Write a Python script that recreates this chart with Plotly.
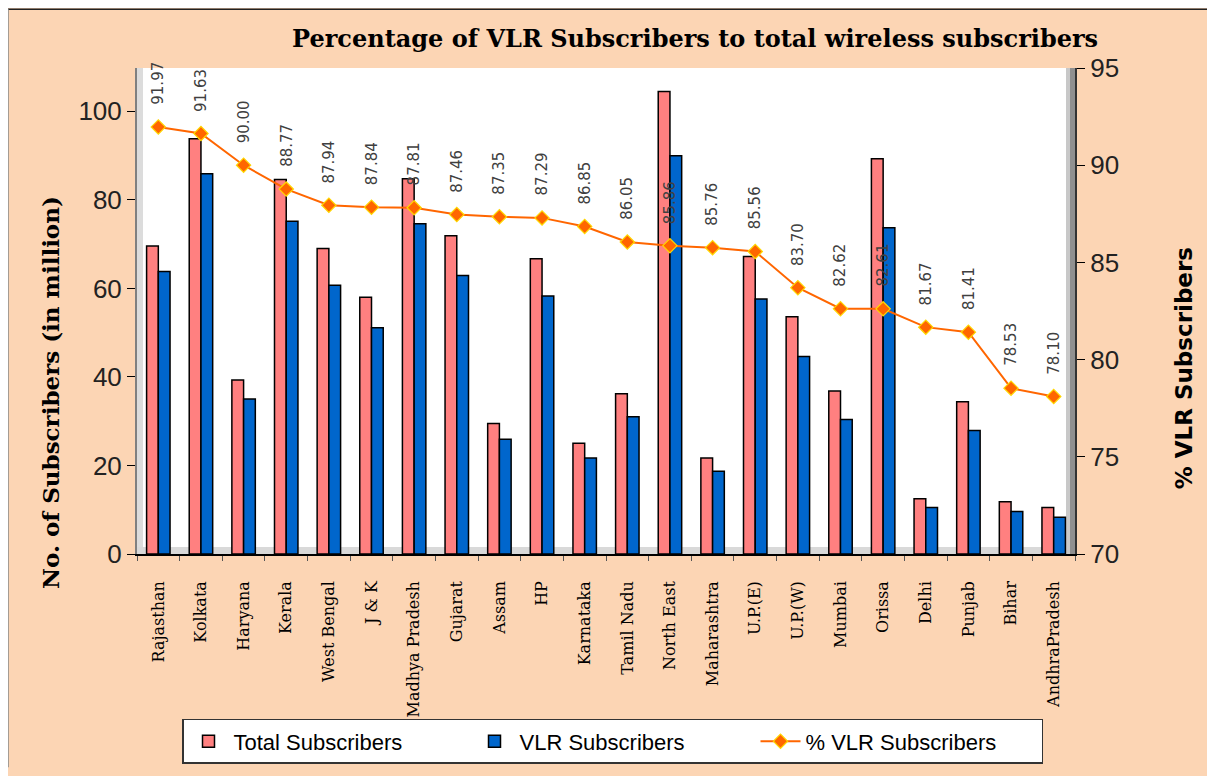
import plotly.graph_objects as go

categories = ["Rajasthan", "Kolkata", "Haryana", "Kerala", "West Bengal", "J & K",
              "Madhya Pradesh", "Gujarat", "Assam", "HP", "Karnataka", "Tamil Nadu",
              "North East", "Maharashtra", "U.P.(E)", "U.P.(W)", "Mumbai", "Orissa",
              "Delhi", "Punjab", "Bihar", "AndhraPradesh"]
total_subs = [69.6, 93.8, 39.3, 84.6, 69.0, 58.0, 84.8, 71.9, 29.5, 66.7, 25.0, 36.2,
              104.5, 21.7, 67.2, 53.6, 36.8, 89.3, 12.5, 34.4, 11.8, 10.5]
vlr_subs = [63.8, 85.9, 35.0, 75.2, 60.7, 51.1, 74.6, 62.9, 25.9, 58.3, 21.7, 31.0,
            90.0, 18.7, 57.6, 44.6, 30.4, 73.7, 10.5, 27.9, 9.6, 8.3]
vlr_pct = [91.97, 91.63, 90.00, 88.77, 87.94, 87.84, 87.81, 87.46, 87.35, 87.29, 86.85,
           86.05, 85.86, 85.76, 85.56, 83.70, 82.62, 82.61, 81.67, 81.41, 78.53, 78.10]
left_ticks = [0, 20, 40, 60, 80, 100]
right_ticks = [70, 75, 80, 85, 90, 95]

# page has an 8px body margin; work in screen coordinates
OFF = 8
SW, SH = 1215, 776
L, R, T, B = 137, 1075, 68, 560


def px(x):
    return (x - L) / (R - L)


def py(y):
    return (B - y) / (B - T)


PEACH = "#FCD5B4"

fig = go.Figure()
fig.add_trace(go.Bar(x=categories, y=total_subs, name="Total Subscribers",
                     marker=dict(color="#FF8080", line=dict(color="black", width=1.5))))
fig.add_trace(go.Bar(x=categories, y=vlr_subs, name="VLR Subscribers",
                     marker=dict(color="#0066CC", line=dict(color="black", width=1.5))))
fig.add_trace(go.Scatter(x=categories, y=vlr_pct, name="% VLR Subscribers", yaxis="y2",
                         mode="lines+markers",
                         line=dict(color="#FF6600", width=2),
                         marker=dict(symbol="diamond", size=11, color="#FF6600",
                                     line=dict(color="#FFD700", width=1.2))))

annotations = []
for c, v in zip(categories, vlr_pct):
    annotations.append(dict(x=c, y=v, xref="x", yref="y2", text=f"{v:.2f}",
                            showarrow=False, textangle=-90, xanchor="center", yanchor="bottom",
                            yshift=20, font=dict(family="DejaVu Sans", size=15, color="#404040")))

annotations.append(dict(x=px(695), y=py(38), xref="paper", yref="paper",
                        xanchor="center", yanchor="middle",
                        text="<b>Percentage of VLR Subscribers to total wireless subscribers</b>",
                        showarrow=False, font=dict(family="DejaVu Serif", size=24, color="black")))
annotations.append(dict(x=px(51), y=py(397), xref="paper", yref="paper",
                        xanchor="center", yanchor="middle",
                        text="<b>No. of Subscribers (in million)</b>", textangle=-90,
                        showarrow=False, font=dict(family="DejaVu Serif", size=23, color="black")))
annotations.append(dict(x=px(1184), y=py(372), xref="paper", yref="paper",
                        xanchor="center", yanchor="middle",
                        text="<b>% VLR Subscribers</b>", textangle=-90,
                        showarrow=False, font=dict(family="DejaVu Sans", size=23, color="black")))

shapes = [
    dict(type="rect", xref="paper", yref="paper", x0=0, x1=1, y0=0, y1=1,
         fillcolor="white", line=dict(width=0), layer="below"),
    dict(type="rect", xref="paper", yref="paper", x0=0, x1=px(143), y0=0, y1=1,
         fillcolor="#DCDCDC", line=dict(width=0), layer="below"),
    dict(type="rect", xref="paper", yref="paper", x0=0, x1=1, y0=0, y1=py(553),
         fillcolor="#D9D9D9", line=dict(width=0), layer="below"),
    dict(type="rect", xref="paper", yref="paper", x0=px(1066), x1=px(1070), y0=0, y1=1,
         fillcolor="#C8C8C8", line=dict(width=0), layer="below"),
    dict(type="rect", xref="paper", yref="paper", x0=px(1070), x1=1, y0=0, y1=1,
         fillcolor="#909090", line=dict(width=0), layer="below"),
    dict(type="line", xref="paper", yref="paper", x0=px(OFF), x1=px(SW), y0=py(OFF + 0.5), y1=py(OFF + 0.5),
         line=dict(color="#222222", width=1.5)),
    dict(type="line", xref="paper", yref="paper", x0=px(OFF), x1=px(OFF), y0=py(OFF), y1=py(SH),
         line=dict(color="#888888", width=1.5)),
]

fig.update_layout(
    width=SW - OFF, height=SH - OFF,
    margin=dict(l=L - OFF, r=SW - R, t=T - OFF, b=SH - B, pad=0),
    paper_bgcolor=PEACH,
    plot_bgcolor="rgba(0,0,0,0)",
    barmode="group", bargap=0.45, bargroupgap=0.0,
    showlegend=True,
    legend=dict(orientation="h", x=px(182), y=py(727), xanchor="left", yanchor="top",
                bgcolor="white", bordercolor="#333333", borderwidth=1.5,
                font=dict(family="Liberation Sans", size=22, color="black"),
                entrywidth=231, entrywidthmode="pixels", itemwidth=40,
                traceorder="normal"),
    xaxis=dict(type="category", range=[-0.5, len(categories) - 0.5], tickangle=-90, showgrid=False,
               tickfont=dict(family="DejaVu Serif", size=16, color="black"),
               ticks="outside", tickson="boundaries", ticklen=5, tickcolor="#555555",
               ticklabelstandoff=19,
               showline=True, linecolor="black", linewidth=1.5),
    yaxis=dict(range=[0, 109.8], tickvals=left_ticks, showgrid=False, zeroline=False,
               ticks="outside", ticklen=8, tickcolor="black",
               showline=True, linecolor="#808080", linewidth=2,
               tickfont=dict(family="Liberation Sans", size=26, color="#222222")),
    yaxis2=dict(range=[70, 95], tickvals=right_ticks, overlaying="y", side="right",
                showgrid=False, zeroline=False, ticks="outside", ticklen=8, tickcolor="black",
                showline=True, linecolor="#333333", linewidth=2,
                tickfont=dict(family="Liberation Sans", size=26, color="#222222")),
    annotations=annotations,
    shapes=shapes,
)

fig.write_html("out.html")
